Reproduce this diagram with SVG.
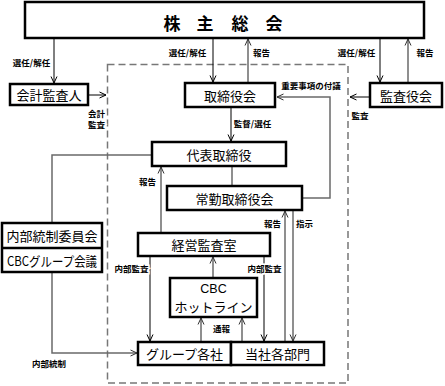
<svg xmlns="http://www.w3.org/2000/svg" width="445" height="386" viewBox="0 0 445 386">
<style>
.box{fill:#fff;stroke:#000;stroke-width:2.5}
.t{font-family:"Noto Sans CJK JP","Noto Sans",sans-serif;font-size:13px;fill:#000;text-anchor:middle;dominant-baseline:central}
.s{font-family:"Noto Sans CJK JP","Noto Sans",sans-serif;font-size:8.5px;font-weight:bold;fill:#000;text-anchor:middle;dominant-baseline:central;stroke:#fff;stroke-width:3;paint-order:stroke}
.k{fill:none;stroke:#000;stroke-width:1}
.g{fill:none;stroke:#6a6a6a;stroke-width:1.5}
</style>
<defs>
<marker id="ak" viewBox="0 0 8 8" refX="7.5" refY="4" markerWidth="8" markerHeight="8" markerUnits="userSpaceOnUse" orient="auto"><path d="M1,1 L7.5,4 L1,7" fill="none" stroke="#000" stroke-width="1"/></marker>
<marker id="ag" viewBox="0 0 8 8" refX="7.5" refY="4" markerWidth="8" markerHeight="8" markerUnits="userSpaceOnUse" orient="auto"><path d="M1,1 L7.5,4 L1,7" fill="none" stroke="#333" stroke-width="1"/></marker>
</defs>
<rect x="0" y="0" width="445" height="386" fill="#fff"/>
<rect id="boundary" x="107.5" y="64.5" width="240.5" height="318.5" fill="none" stroke="#777" stroke-width="1.5" stroke-dasharray="7 4"/>
<g id="connectors">
<line class="k" x1="54" y1="38" x2="54" y2="83" marker-end="url(#ak)"/>
<line class="k" x1="213" y1="38" x2="213" y2="82" marker-end="url(#ak)"/>
<line class="g" x1="248" y1="82" x2="248" y2="39" marker-end="url(#ag)"/>
<line class="k" x1="380" y1="38" x2="380" y2="82" marker-end="url(#ak)"/>
<line class="g" x1="408" y1="82" x2="408" y2="39" marker-end="url(#ag)"/>
<line class="k" x1="89" y1="95" x2="106" y2="95" marker-end="url(#ak)"/>
<line class="k" x1="369" y1="97" x2="350" y2="97" marker-end="url(#ak)"/>
<polyline class="g" points="302,198 330,198 330,97 277,97" marker-end="url(#ag)"/>
<line class="k" x1="231" y1="108" x2="231" y2="141" marker-end="url(#ak)"/>
<polyline class="g" points="52,223 52,155 152,155"/>
<line class="g" x1="232" y1="166" x2="232" y2="186"/>
<line class="g" x1="161" y1="233" x2="161" y2="167" marker-end="url(#ag)"/>
<line class="g" x1="285" y1="342" x2="285" y2="211" marker-end="url(#ag)"/>
<line class="g" x1="293" y1="211" x2="293" y2="341" marker-end="url(#ag)"/>
<line class="k" x1="150" y1="256" x2="150" y2="341" marker-end="url(#ak)"/>
<line class="k" x1="264" y1="256" x2="264" y2="341" marker-end="url(#ak)"/>
<line class="g" x1="213" y1="278" x2="213" y2="257" marker-end="url(#ag)"/>
<line class="g" x1="201" y1="342" x2="201" y2="318" marker-end="url(#ag)"/>
<line class="g" x1="242" y1="342" x2="242" y2="318" marker-end="url(#ag)"/>
<polyline class="g" points="52,272 52,353 137,353" marker-end="url(#ag)"/>
</g>
<g id="labels">
<text class="s" x="31.5" y="62">選任/解任</text>
<text class="s" x="187.5" y="52">選任/解任</text>
<text class="s" x="261.5" y="52">報告</text>
<text class="s" x="356.5" y="52">選任/解任</text>
<text class="s" x="425" y="52">報告</text>
<text class="s" x="311" y="85">重要事項の付議</text>
<text class="s" x="96.5" y="113">会計</text>
<text class="s" x="96.5" y="124">監査</text>
<text class="s" x="360" y="115">監査</text>
<text class="s" x="252.5" y="123">監督/選任</text>
<text class="s" x="147.5" y="181">報告</text>
<text class="s" x="272.5" y="223">報告</text>
<text class="s" x="304.5" y="223">指示</text>
<text class="s" x="131.5" y="268">内部監査</text>
<text class="s" x="264.5" y="268">内部監査</text>
<text class="s" x="221.5" y="328">通報</text>
<text class="s" x="49" y="363">内部統制</text>
</g>
<g id="shareholders">
<rect class="box" x="25" y="2" width="399" height="36"/>
<text class="t" style="font-size:17px;font-weight:bold" x="172 205 240 274" y="22">株主総会</text>
</g>
<g id="auditor">
<rect class="box" x="10" y="84" width="78" height="21"/>
<text class="t" x="49" y="94.5">会計監査人</text>
</g>
<g id="audit-board">
<rect class="box" x="370" y="83" width="72" height="24"/>
<text class="t" x="406" y="95">監査役会</text>
</g>
<g id="board">
<rect class="box" x="185" y="83" width="90" height="24"/>
<text class="t" x="230" y="95">取締役会</text>
</g>
<g id="rep-director">
<rect class="box" x="152" y="142" width="134" height="24"/>
<text class="t" x="219" y="154">代表取締役</text>
</g>
<g id="managing-board">
<rect class="box" x="167" y="186" width="135" height="24"/>
<text class="t" x="234.5" y="198">常勤取締役会</text>
</g>
<g id="audit-office">
<rect class="box" x="138" y="233" width="132" height="23"/>
<text class="t" x="204" y="244.5">経営監査室</text>
</g>
<g id="hotline">
<rect class="box" x="170" y="278" width="87" height="39"/>
<text class="t" style="font-family:'Liberation Sans',sans-serif;font-size:12.5px" x="213.5" y="289">CBC</text>
<text class="t" x="213.5" y="306">ホットライン</text>
</g>
<g id="group-companies">
<rect class="box" x="138" y="342" width="93" height="23"/>
<text class="t" x="184.5" y="353.5">グループ各社</text>
</g>
<g id="departments">
<rect class="box" x="231" y="342" width="93" height="23"/>
<text class="t" x="277.5" y="353.5">当社各部門</text>
</g>
<g id="internal-control">
<rect class="box" x="2" y="223" width="100" height="49"/>
<line x1="2" y1="248" x2="102" y2="248" stroke="#000" stroke-width="2.5"/>
<text class="t" x="52" y="235.5">内部統制委員会</text>
<text class="t" x="52" y="260" textLength="90" lengthAdjust="spacingAndGlyphs">CBCグループ会議</text>
</g>
</svg>
